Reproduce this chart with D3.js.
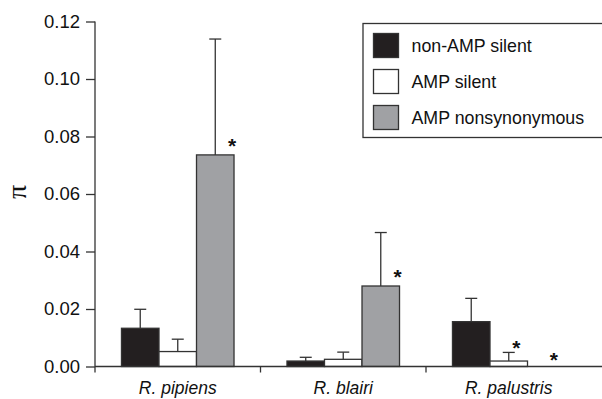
<!DOCTYPE html>
<html>
<head>
<meta charset="utf-8">
<script src="https://cdn.jsdelivr.net/npm/d3@7"></script>
<style>
    body { margin: 0; background: #fff; }
    svg { display: block; font-family: "Liberation Sans", Arial, sans-serif; }
</style>
</head>
<body>
<div id="chart"></div>
<script>
(function () {

    const species = ["R. pipiens", "R. blairi", "R. palustris"]
    const series = ["non-AMP silent", "AMP silent", "AMP nonsynonymous"]
    const colors = ["#231f20", "#ffffff", "#a0a1a4"]

    // mean pi per species, one array per series
    const nonAmpSilent = [0.0133, 0.0019, 0.0156]
    const ampSilent = [0.0052, 0.0025, 0.0019]
    const ampNonsyn = [0.0736, 0.0280, 0.0]

    // upper end of error bars
    const nonAmpSilentErr = [0.0199, 0.0032, 0.0237]
    const ampSilentErr = [0.0095, 0.0050, 0.0049]
    const ampNonsynErr = [0.1139, 0.0466, 0.0]

    // significance stars (species, series)
    const stars = [
        ["R. pipiens", "AMP nonsynonymous"],
        ["R. blairi", "AMP nonsynonymous"],
        ["R. palustris", "AMP silent"],
        ["R. palustris", "AMP nonsynonymous"]
    ]

    const yTicks = [0, 0.02, 0.04, 0.06, 0.08, 0.10, 0.12]

    const values = [nonAmpSilent, ampSilent, ampNonsyn]
    const errors = [nonAmpSilentErr, ampSilentErr, ampNonsynErr]

    const rows = []
    species.forEach((sp, i) => {
        series.forEach((s, j) => {
            rows.push({ sp: sp, s: s, v: values[j][i], err: errors[j][i], color: colors[j] })
        })
    })

    const width = 602
    const height = 399
    const margin = { left: 95, right: 10.5, top: 21.5, bottom: 32.5 }

    const svg = d3.select("#chart")
        .append("svg")
        .attr("width", width)
        .attr("height", height)

    const x0 = d3.scaleBand()
        .domain(species)
        .range([margin.left, width - margin.right])
        .padding(0)

    const x1 = d3.scaleBand()
        .domain(series)
        .range([x0.bandwidth() * 0.16, x0.bandwidth() * 0.84])
        .padding(0)

    const y = d3.scaleLinear()
        .domain([0, 0.12])
        .range([height - margin.bottom, margin.top])

    const ink = "#333"
    const cx = d => x0(d.sp) + x1(d.s) + x1.bandwidth() / 2

    // bars
    svg.append("g")
        .selectAll("rect")
        .data(rows.filter(d => d.v > 0))
        .enter()
        .append("rect")
        .attr("x", d => x0(d.sp) + x1(d.s))
        .attr("y", d => y(d.v))
        .attr("width", x1.bandwidth())
        .attr("height", d => y(0) - y(d.v))
        .attr("fill", d => d.color)
        .attr("stroke", ink)
        .attr("stroke-width", 1.3)

    // error bars (upper only)
    const eb = svg.append("g")
        .selectAll("g")
        .data(rows.filter(d => d.err > 0))
        .enter()
        .append("g")
        .attr("stroke", ink)
        .attr("stroke-width", 1.3)

    eb.append("line")
        .attr("x1", cx)
        .attr("x2", cx)
        .attr("y1", d => y(d.v))
        .attr("y2", d => y(d.err))

    eb.append("line")
        .attr("x1", d => cx(d) - 6)
        .attr("x2", d => cx(d) + 6)
        .attr("y1", d => y(d.err))
        .attr("y2", d => y(d.err))

    // stars
    svg.append("g")
        .selectAll("text")
        .data(stars.map(([sp, s]) => rows.find(r => r.sp === sp && r.s === s)))
        .enter()
        .append("text")
        .attr("x", d => x0(d.sp) + x1(d.s) + x1.bandwidth() * (d.v > 0.02 ? 0.95 : 0.7))
        .attr("y", d => (d.v > 0.02 ? y(d.v) - 14 : y(d.err) - (d.err > 0 ? 9 : 12)) + 12)
        .attr("text-anchor", "middle")
        .attr("font-size", 21)
        .attr("font-weight", "bold")
        .attr("fill", "#111")
        .text("*")

    // y axis
    const yAxis = svg.append("g")
        .attr("transform", `translate(${margin.left},0)`)
        .call(d3.axisLeft(y).tickValues(yTicks).tickFormat(d3.format(".2f")).tickSize(9).tickPadding(6))
    yAxis.select(".domain").attr("stroke", ink).attr("stroke-width", 1.3)
        .attr("d", `M0,${margin.top}V${y(0) + 6}`)
    yAxis.selectAll(".tick line").attr("stroke", ink).attr("stroke-width", 1.3)
    yAxis.selectAll(".tick text")
        .attr("font-size", 18.5)
        .attr("font-family", "Liberation Sans, Arial, sans-serif")
        .attr("fill", "#111")

    // x axis
    svg.append("line")
        .attr("x1", margin.left)
        .attr("x2", width)
        .attr("y1", y(0))
        .attr("y2", y(0))
        .attr("stroke", ink)
        .attr("stroke-width", 1.3)

    svg.append("g")
        .selectAll("line")
        .data(species.slice(1))
        .enter()
        .append("line")
        .attr("x1", d => x0(d))
        .attr("x2", d => x0(d))
        .attr("y1", y(0))
        .attr("y2", y(0) + 6)
        .attr("stroke", ink)
        .attr("stroke-width", 1.3)

    svg.append("g")
        .selectAll("text")
        .data(species)
        .enter()
        .append("text")
        .attr("x", d => x0(d) + x0.bandwidth() / 2)
        .attr("y", 394)
        .attr("text-anchor", "middle")
        .attr("font-size", 17.5)
        .attr("font-style", "italic")
        .attr("fill", "#111")
        .text(d => d)

    // y label
    svg.append("text")
        .attr("transform", `translate(26,192) rotate(-90)`)
        .attr("text-anchor", "middle")
        .attr("font-family", "Liberation Serif, serif")
        .attr("font-size", 28)
        .attr("fill", "#111")
        .text("π")

    // legend
    const legend = svg.append("g")
        .attr("transform", "translate(363,23.5)")

    legend.append("rect")
        .attr("width", 245)
        .attr("height", 114)
        .attr("fill", "#fff")
        .attr("stroke", ink)
        .attr("stroke-width", 1.3)

    const item = legend.selectAll("g")
        .data(series)
        .enter()
        .append("g")
        .attr("transform", (d, i) => `translate(10.5,${10 + i * 36})`)

    item.append("rect")
        .attr("width", 25)
        .attr("height", 24)
        .attr("fill", (d, i) => colors[i])
        .attr("stroke", ink)
        .attr("stroke-width", 1.3)

    item.append("text")
        .attr("x", 38)
        .attr("y", 18)
        .attr("font-size", 17.8)
        .attr("fill", "#111")
        .text(d => d)
})()
</script>
</body>
</html>
